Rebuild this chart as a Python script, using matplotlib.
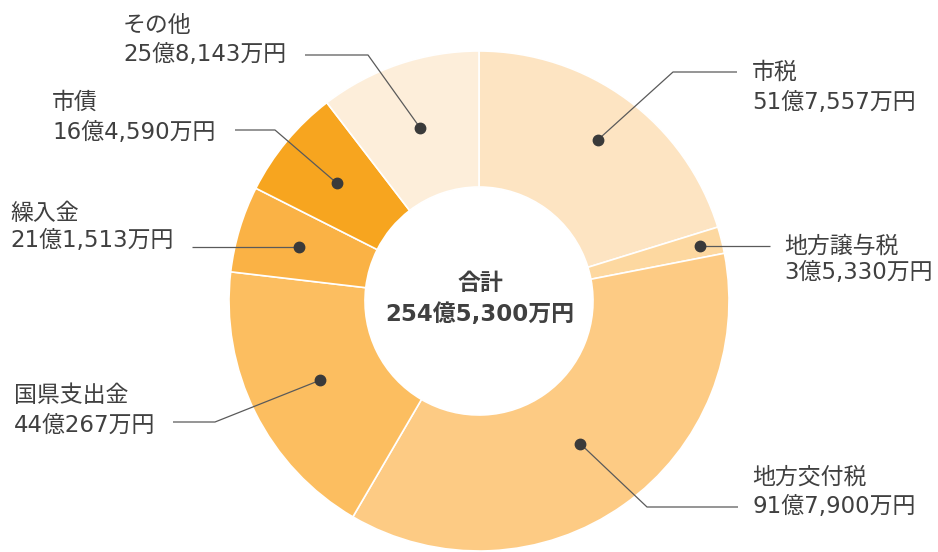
import matplotlib
matplotlib.use("Agg")
import matplotlib.pyplot as plt
import numpy as np

plt.rcParams['font.family'] = ['DejaVu Sans', 'Noto Sans CJK JP']

# ---- data ----
categories = ["市税", "地方譲与税", "地方交付税", "国県支出金", "繰入金", "市債", "その他"]
# slice sizes as drawn in the picture (万円 scale)
slice_values = [514700, 43800, 928300, 469500, 142100, 181700, 265100]
value_labels = ["51億7,557万円", "3億5,330万円", "91億7,900万円", "44億267万円",
                "21億1,513万円", "16億4,590万円", "25億8,143万円"]
total_title = "合計"
total_label = "254億5,300万円"

# ---- style ----
colors = ["#FDE4C2", "#FDD8A0", "#FDCB84", "#FCBE60", "#FAB245", "#F7A51F", "#FDEEDA"]
W, H = 938, 552
CX, CY = 479, H - 301
R_OUT, R_IN = 250, 114
dot_r = [0.80, 0.91, 0.70, 0.71, 0.75, 0.74, 0.73]
# leader: elbow (or None), line end, text x, name y, value y  (pixel coords, y down)
leaders = [
    ((673, 72), (737, 72), 752, 72, 102),
    (None, (770, 246), 784, 246, 273),
    ((647, 507), (738, 507), 752, 477, 507),
    ((215, 422), (173, 422), 14, 395, 425),
    (None, (192, 247), 10, 213, 241),
    ((275, 130), (235, 130), 52, 102, 132),
    ((368, 55), (305, 55), 123, 25, 55),
]
text_color = "#404040"
line_color = "#5a5a5a"
fs = 16.5

fig = plt.figure(figsize=(W / 100, H / 100), dpi=100)
ax = fig.add_axes([0, 0, 1, 1])
ax.pie(slice_values, colors=colors, startangle=90, counterclock=False,
       radius=R_OUT, center=(CX, CY),
       wedgeprops=dict(width=R_OUT - R_IN, edgecolor="white", linewidth=1.2))
ax.set_xlim(0, W)
ax.set_ylim(0, H)
ax.set_aspect('equal')
ax.axis('off')

vals = np.array(slice_values, dtype=float)
fr = vals / vals.sum()
starts = np.concatenate([[0], np.cumsum(fr)[:-1]])
mids = starts + fr / 2
for i, m in enumerate(mids):
    ang = np.deg2rad(90 - 360 * m)
    dx = CX + dot_r[i] * R_OUT * np.cos(ang)
    dy = CY + dot_r[i] * R_OUT * np.sin(ang)
    elbow, end, tx, ny, vy = leaders[i]
    pts = [(dx, dy)]
    if elbow is not None:
        pts.append((elbow[0], H - elbow[1]))
        pts.append((end[0], H - end[1]))
    else:
        pts.append((end[0], dy))
    xs, ys = zip(*pts)
    ax.plot(xs, ys, color=line_color, lw=0.9, solid_capstyle='butt', zorder=3)
    ax.plot([dx], [dy], 'o', color="#3a3a3a", markersize=7.5, zorder=4)
    ax.text(tx, H - ny, categories[i], fontsize=fs, color=text_color, ha='left', va='center')
    ax.text(tx, H - vy, value_labels[i], fontsize=fs, color=text_color, ha='left', va='center')

ax.text(CX + 1, H - 283, total_title, fontsize=16.5, fontweight='bold', color=text_color,
        ha='center', va='center')
ax.text(CX + 1, H - 315, total_label, fontsize=16.5, fontweight='bold', color=text_color,
        ha='center', va='center')

fig.savefig("out.png", dpi=100)
